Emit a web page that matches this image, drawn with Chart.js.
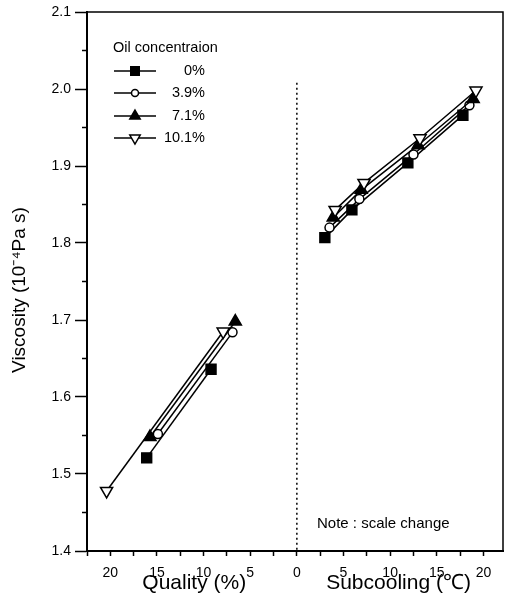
<!DOCTYPE html>
<html>
<head>
<meta charset="utf-8">
<script src="https://cdn.jsdelivr.net/npm/chart.js@4.4.1/dist/chart.umd.min.js"></script>
<style>
  html, body { margin: 0; padding: 0; background: #fff; }
  #wrap { width: 505px; height: 596px; }
</style>
</head>
<body>
<div id="wrap"><canvas id="c" width="505" height="596"></canvas></div>
<script>
// Series labels
const seriesLabels = ['0%', '3.9%', '7.1%', '10.1%'];
// Quality side (x plotted as negative quality, %)
const qualityX = [
  [-16.1, -9.2],
  [-14.9, -6.9],
  [-15.75, -6.6],
  [-20.4, -7.9]
];
const qualityY = [
  [1.521, 1.636],
  [1.552, 1.684],
  [1.548, 1.698],
  [1.478, 1.685]
];
// Subcooling side (°C)
const subcoolX = [
  [3.0, 5.9, 11.9, 17.8],
  [3.5, 6.7, 12.5, 18.5],
  [3.9, 6.9, 13.0, 18.9],
  [4.1, 7.2, 13.2, 19.2]
];
const subcoolY = [
  [1.807, 1.843, 1.904, 1.966],
  [1.820, 1.857, 1.915, 1.979],
  [1.833, 1.869, 1.927, 1.987],
  [1.843, 1.878, 1.936, 1.998]
];
const xTickValues = [-22.5, -20, -17.5, -15, -12.5, -10, -7.5, -5, -2.5, 0, 2.5, 5, 7.5, 10, 12.5, 15, 17.5, 20];
const xTickLabels = ['20', '15', '10', '5', '0', '5', '10', '15', '20'];
const legendTitle = 'Oil concentraion';
const noteText = 'Note : scale change';

const styles = [
  { pointStyle: 'rect', radius: 7, fill: '#000', rotation: 0 },
  { pointStyle: 'circle', radius: 4.5, fill: '#fff', rotation: 0 },
  { pointStyle: 'triangle', radius: 7, fill: '#000', rotation: 0 },
  { pointStyle: 'triangle', radius: 7, fill: '#fff', rotation: 180 }
];

function pts(xs, ys) { return xs.map((x, i) => ({ x: x, y: ys[i] })); }

const datasets = [];
for (let s = 0; s < seriesLabels.length; s++) {
  const st = styles[s];
  [pts(qualityX[s], qualityY[s]), pts(subcoolX[s], subcoolY[s])].forEach(d => {
    datasets.push({
      label: seriesLabels[s],
      data: d,
      showLine: true,
      borderColor: '#000',
      borderWidth: 1.5,
      pointStyle: st.pointStyle,
      pointRadius: st.radius,
      pointRotation: st.rotation,
      pointBackgroundColor: st.fill,
      pointBorderColor: '#000',
      pointBorderWidth: 1.5,
      order: 4 - s
    });
  });
}

const FONT = 'Arial, "Liberation Sans", sans-serif';

const extras = {
  id: 'extras',
  afterDraw(chart) {
    const ctx = chart.ctx;
    const a = chart.chartArea;
    const xs = chart.scales.x, ys = chart.scales.y;
    ctx.save();
    // frame top/right
    ctx.strokeStyle = '#000';
    ctx.lineWidth = 1.5;
    ctx.beginPath();
    ctx.moveTo(a.left, a.top); ctx.lineTo(a.right, a.top); ctx.lineTo(a.right, a.bottom);
    ctx.stroke();
    // minor y ticks
    ctx.lineWidth = 1.5;
    ys.ticks.forEach(t => {
      const v = t.value;
      if (Math.abs(v * 10 - Math.round(v * 10)) > 1e-6) {
        const py = ys.getPixelForValue(v);
        ctx.beginPath(); ctx.moveTo(a.left - 5, py); ctx.lineTo(a.left, py); ctx.stroke();
      }
    });
    // dotted divider at x = 0
    ctx.setLineDash([2, 3]);
    ctx.lineWidth = 1.5;
    const x0 = xs.getPixelForValue(0);
    ctx.beginPath(); ctx.moveTo(x0, ys.getPixelForValue(2.008)); ctx.lineTo(x0, a.bottom); ctx.stroke();
    ctx.setLineDash([]);
    // axis titles
    ctx.fillStyle = '#000';
    ctx.textAlign = 'center';
    ctx.textBaseline = 'middle';
    ctx.font = '21px ' + FONT;
    ctx.fillText('Quality (%)', xs.getPixelForValue(-11), 583);
    ctx.fillText('Subcooling (\u2103)', xs.getPixelForValue(10.9), 583);
    ctx.save();
    ctx.translate(20, 290);
    ctx.rotate(-Math.PI / 2);
    ctx.font = '19px ' + FONT;
    ctx.fillText('Viscosity (10\u207B\u2074Pa s)', 0, 0);
    ctx.restore();
    // note
    ctx.font = '15px ' + FONT;
    ctx.textAlign = 'left';
    ctx.fillText(noteText, 317, 524);
    // legend
    ctx.font = '14.5px ' + FONT;
    ctx.fillText(legendTitle, 113, 48);
    const rowY = [71, 93, 116, 138];
    for (let s = 0; s < seriesLabels.length; s++) {
      const y = rowY[s];
      ctx.lineWidth = 1.5;
      ctx.strokeStyle = '#000';
      ctx.beginPath(); ctx.moveTo(114, y); ctx.lineTo(156, y); ctx.stroke();
      const st = styles[s];
      ctx.fillStyle = st.fill;
      const r = s === 1 ? 3.5 : 6;
      Chart.helpers.drawPoint(ctx, { pointStyle: st.pointStyle, radius: r, rotation: st.rotation, borderWidth: 1.5 }, 135, y);
      ctx.fillStyle = '#000';
      ctx.textAlign = 'right';
      ctx.fillText(seriesLabels[s], 205, y);
      ctx.textAlign = 'left';
    }
    ctx.restore();
  }
};

const noPad = () => ({ left: 0, top: 0, right: 0, bottom: 0 });

new Chart(document.getElementById('c'), {
  type: 'scatter',
  data: { datasets: datasets },
  plugins: [extras],
  options: {
    responsive: false,
    animation: false,
    layout: { autoPadding: false, padding: { top: 12, right: 2, left: 0, bottom: 0 } },
    plugins: { legend: { display: false }, tooltip: { enabled: false } },
    scales: {
      x: {
        type: 'linear',
        min: -22.5,
        max: 22.1,
        afterBuildTicks(sc) { sc.ticks = xTickValues.map(v => ({ value: v })); },
        afterFit(sc) { sc.height = 45; sc.paddingRight = 0; sc.paddingLeft = 0; sc.getPadding = noPad; },
        border: { color: '#000', width: 2 },
        grid: { drawOnChartArea: false, tickLength: 5, tickColor: '#000', tickWidth: 1.5 },
        ticks: {
          autoSkip: false,
          maxRotation: 0,
          padding: 9,
          color: '#000',
          font: { family: FONT, size: 14 },
          callback(v) {
            const r = Math.round(v * 10) / 10;
            if (Math.abs(r % 5) < 1e-6) {
              const idx = Math.round((r + 20) / 5);
              return xTickLabels[idx] !== undefined ? xTickLabels[idx] : '';
            }
            return '';
          }
        }
      },
      y: {
        type: 'linear',
        min: 1.4,
        max: 2.1,
        afterFit(sc) { sc.width = 87; sc.getPadding = noPad; },
        border: { color: '#000', width: 2 },
        grid: {
          drawOnChartArea: false,
          tickLength: 12,
          tickWidth: 1.5,
          tickColor(c) {
            const v = c.tick ? c.tick.value : 0;
            return Math.abs(v * 10 - Math.round(v * 10)) < 1e-6 ? '#000' : 'rgba(0,0,0,0)';
          }
        },
        ticks: {
          stepSize: 0.05,
          autoSkip: false,
          padding: 4,
          color: '#000',
          font: { family: FONT, size: 14 },
          callback(v) {
            return Math.abs(v * 10 - Math.round(v * 10)) < 1e-6 ? v.toFixed(1) : '';
          }
        }
      }
    }
  }
});
</script>
</body>
</html>
